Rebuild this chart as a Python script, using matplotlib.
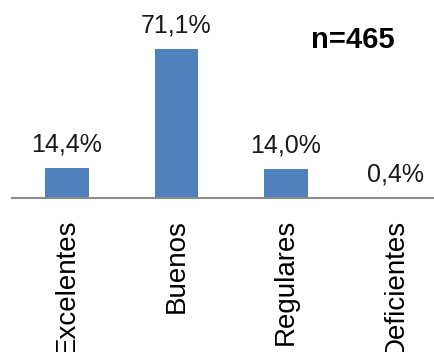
import matplotlib.pyplot as plt

categorias = ["Excelentes", "Buenos", "Regulares", "Deficientes"]
porcentajes = [14.4, 71.1, 14.0, 0.4]
etiquetas = ["14,4%", "71,1%", "14,0%", "0,4%"]
total_n = "n=465"

plt.rcParams['font.family'] = ['Liberation Sans', 'DejaVu Sans']

fig = plt.figure(figsize=(4.35, 3.52), dpi=100)
# axes run past the right edge, like the original export
ax = fig.add_axes([12.25 / 435, 154 / 352, 438 / 435, 198 / 352])

x = range(len(categorias))
ax.bar(x, porcentajes, width=0.4, color='#4F81BD')
ax.set_xlim(-0.5, 3.5)
ax.set_ylim(0, 94.5)

for i, v in enumerate(porcentajes):
    ax.annotate(etiquetas[i], (i, v), xytext=(0, 8), textcoords='offset points',
                ha='center', va='bottom', fontsize=18, color='#1a1a1a')

ax.set_xticks(list(x))
ax.set_xticklabels(categorias, rotation=90, fontsize=20, va='top')
ax.tick_params(axis='x', length=0, pad=15)
ax.set_yticks([])

for s in ['top', 'right', 'left']:
    ax.spines[s].set_visible(False)
ax.spines['bottom'].set_color('#8c8c8c')
ax.spines['bottom'].set_linewidth(1.5)

fig.text(353 / 435, 1 - 40 / 352, total_n, ha='center', va='center',
         fontsize=21, fontweight='bold')

fig.savefig('out.png', dpi=100)
